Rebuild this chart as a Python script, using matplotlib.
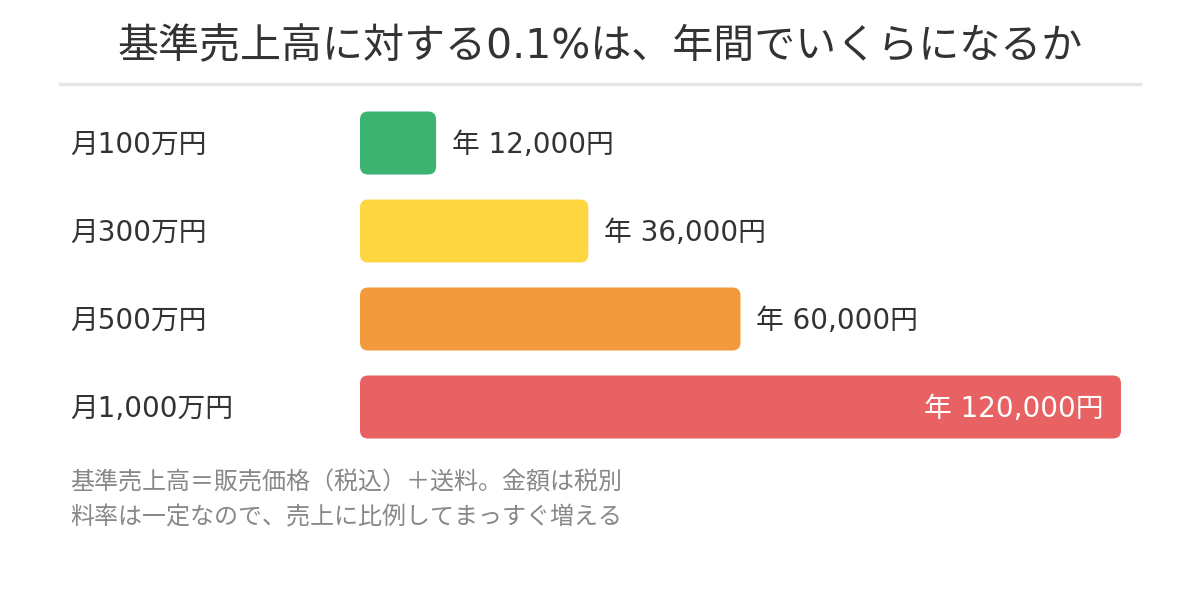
import matplotlib
matplotlib.use("Agg")
from matplotlib import pyplot as plt
from matplotlib.patches import FancyBboxPatch

# wide Latin digits first, CJK glyphs fall back to Noto
plt.rcParams['font.family'] = ['DejaVu Sans', 'Noto Sans CJK JP']

# Data
categories = ["月100万円", "月300万円", "月500万円", "月1,000万円"]
values = [12000, 36000, 60000, 120000]
value_labels = ["年 12,000円", "年 36,000円", "年 60,000円", "年 120,000円"]
colors = ["#3db372", "#fed640", "#f39b3c", "#e86163"]
title = "基準売上高に対する0.1%は、年間でいくらになるか"
notes = ["基準売上高＝販売価格（税込）＋送料。金額は税別",
         "料率は一定なので、売上に比例してまっすぐ増える"]

W, H = 1200, 592
fig = plt.figure(figsize=(W / 100, H / 100), dpi=100)

# Title and rule under it
fig.text(0.5, 1 - 47 / H, title, ha="center", va="center",
         fontsize=29.5, color="#333333")
fig.add_artist(plt.Line2D([60 / W, 1140 / W], [1 - 84 / H, 1 - 84 / H],
                          color="#e6e6e6", lw=2.5))

# Bar area: x 360..1121 px, rows centred at 143 + 88*i px
ax = fig.add_axes([360 / W, 1 - 451 / H, 761 / W, 352 / H])
xmax = max(values)
ax.set_xlim(0, xmax)
ax.set_ylim(len(values) - 0.5, -0.5)
ax.axis("off")

bar_h = 63 / 88
rad_x = 8 * xmax / 761
rad_y = 8 / 88
for i, (v, c, lab) in enumerate(zip(values, colors, value_labels)):
    box = FancyBboxPatch((0, i - bar_h / 2), v, bar_h,
                         boxstyle="round,pad=0,rounding_size=%f" % rad_x,
                         mutation_aspect=rad_y / rad_x,
                         fc=c, ec="none")
    ax.add_patch(box)
    if v == xmax:
        ax.text(v - 18 * xmax / 761, i + 0.02, lab, ha="right", va="center",
                fontsize=20, color="white")
    else:
        ax.text(v + 16 * xmax / 761, i + 0.02, lab, ha="left", va="center",
                fontsize=20, color="#333333")
    fig.text(70 / W, 1 - (145 + 88 * i) / H, categories[i], ha="left",
             va="center", fontsize=20, color="#333333")

# Footnotes
for j, line in enumerate(notes):
    fig.text(70 / W, 1 - (483 + 35 * j) / H, line, ha="left", va="center",
             fontsize=17.3, color="#888888")

fig.savefig("out.png", dpi=100)
